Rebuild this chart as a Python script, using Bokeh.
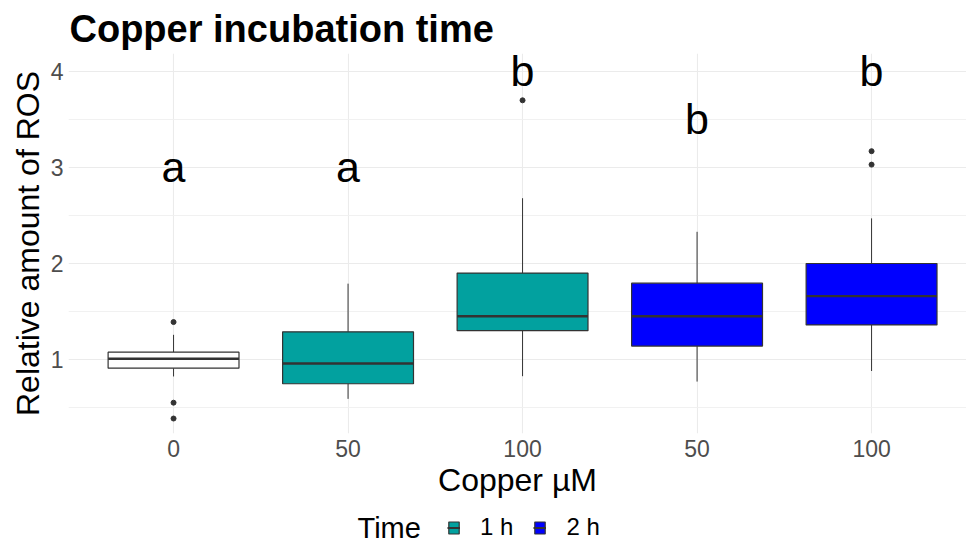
from bokeh.plotting import figure
from bokeh.layouts import column
from bokeh.models import (Range1d, FixedTicker, Legend, LegendItem, Label,
                          ColumnDataSource)
from bokeh.core.properties import value
from bokeh.embed import file_html
from bokeh.resources import INLINE

# ---------------- data ----------------
cat_labels = ["0", "50", "100", "50", "100"]
time_group = ["none", "1 h", "1 h", "2 h", "2 h"]
q1 = [0.91, 0.747, 1.30, 1.14, 1.36]
med = [1.007, 0.958, 1.45, 1.45, 1.66]
q3 = [1.076, 1.288, 1.90, 1.795, 2.00]
whisk_lo = [0.823, 0.59, 0.826, 0.77, 0.88]
whisk_hi = [1.257, 1.79, 2.68, 2.33, 2.47]
out_group = [0, 0, 0, 2, 4, 4]
out_val = [1.39, 0.55, 0.385, 3.70, 3.17, 3.03]
letters = ["a", "a", "b", "b", "b"]
letter_y = [3.0, 3.0, 4.0, 3.5, 4.0]
legend_title = "Time"
legend_labels = ["1 h", "2 h"]

colors = {"none": "#FFFFFF", "1 h": "#02A19F", "2 h": "#0000FF"}
FONT = "Liberation Sans"
EDGE = "#333333"

pos = list(range(1, len(cat_labels) + 1))

# ---------------- main plot ----------------
p = figure(width=966, height=505, output_backend="svg", toolbar_location=None,
           x_range=Range1d(0.398, 5.544), y_range=Range1d(0.229, 4.1875),
           min_border_left=68, min_border_right=0, min_border_top=53,
           min_border_bottom=72)
p.outline_line_color = None

p.title.text = "Copper incubation time"
p.title.text_font = FONT
p.title.text_font_size = "38px"
p.title.text_font_style = "bold"
p.title.text_color = "black"
p.title.offset = 1
p.title.standoff = 8

for ax in (p.xaxis[0], p.yaxis[0]):
    ax.axis_line_color = None
    ax.major_tick_line_color = None
    ax.minor_tick_line_color = None
    ax.major_tick_out = 0
    ax.major_tick_in = 0
    ax.minor_tick_out = 0
    ax.major_label_text_font = FONT
    ax.major_label_text_font_size = "23px"
    ax.major_label_text_color = "#4D4D4D"
    ax.axis_label_text_font = FONT
    ax.axis_label_text_font_style = "normal"
    ax.axis_label_text_color = "black"

p.xaxis.ticker = FixedTicker(ticks=pos)
p.xaxis.major_label_overrides = {i: lab for i, lab in zip(pos, cat_labels)}
p.xaxis.axis_label = "Copper µM"
p.xaxis.axis_label_text_font_size = "32px"
p.xaxis.major_label_standoff = 6
p.xaxis.axis_label_standoff = 2

p.yaxis.ticker = FixedTicker(ticks=[1, 2, 3, 4], minor_ticks=[0.5, 1.5, 2.5, 3.5])
p.yaxis.axis_label = "Relative amount of ROS"
p.yaxis.axis_label_text_font_size = "32px"
p.yaxis.major_label_standoff = 5
p.yaxis.axis_label_standoff = 2

p.xgrid.ticker = FixedTicker(ticks=pos)
p.xgrid.grid_line_color = "#EBEBEB"
p.xgrid.grid_line_width = 1.1
p.ygrid.grid_line_color = "#EBEBEB"
p.ygrid.grid_line_width = 1.1
p.ygrid.minor_grid_line_color = "#EFEFEF"
p.ygrid.minor_grid_line_width = 0.9

# whiskers
p.segment(x0=pos, x1=pos, y0=q3, y1=whisk_hi, line_color=EDGE, line_width=1)
p.segment(x0=pos, x1=pos, y0=whisk_lo, y1=q1, line_color=EDGE, line_width=1)

# boxes by group
for g in ["none", "1 h", "2 h"]:
    idx = [i for i, t in enumerate(time_group) if t == g]
    src = ColumnDataSource(dict(x=[pos[i] for i in idx], top=[q3[i] for i in idx],
                                bottom=[q1[i] for i in idx]))
    p.vbar(x="x", top="top", bottom="bottom", width=0.75, source=src,
           fill_color=colors[g], line_color=EDGE, line_width=1.2)

# medians
p.segment(x0=[x - 0.375 for x in pos], x1=[x + 0.375 for x in pos],
          y0=med, y1=med, line_color=EDGE, line_width=2.4)

# outliers
p.scatter(x=[pos[i] for i in out_group], y=out_val, size=5, color=EDGE)

# significance letters
p.text(x=pos, y=letter_y, text=letters, text_align="center",
       text_baseline="middle", text_font=value(FONT), text_font_size="43px",
       text_color="black")

# ---------------- legend strip (frame aligned with the main plot's frame) ----
lg = figure(width=966, height=38, output_backend="svg", toolbar_location=None,
            x_range=Range1d(68, 966), y_range=Range1d(0, 38),
            min_border=0, min_border_left=0, min_border_right=0,
            min_border_top=0, min_border_bottom=0)
lg.axis.visible = False
lg.grid.visible = False
lg.outline_line_color = None

items = []
for lab in legend_labels:
    # off-frame proxy glyphs: only their legend keys are seen
    box = lg.quad(left=[0], right=[1], top=[-10], bottom=[-11],
                  fill_color=colors[lab], line_color=EDGE, line_width=1.2)
    mid = lg.segment(x0=[0], x1=[1], y0=[-10], y1=[-10], line_color=EDGE,
                     line_width=2)
    items.append(LegendItem(label=lab, renderers=[box, mid], index=0))

legend = Legend(items=items, orientation="horizontal", location=(379, 2),
                glyph_width=13, glyph_height=15, label_standoff=20, spacing=20,
                label_text_font=FONT, label_text_font_size="24px",
                label_text_color="black",
                label_height=15, padding=0, margin=0,
                border_line_color=None, background_fill_alpha=0)
lg.add_layout(legend, "center")

lg.add_layout(Label(x=357, y=15.5, text=legend_title, text_font=FONT,
                    text_font_size="29px", text_color="black",
                    text_baseline="middle"))

layout = column(p, lg, spacing=0)
open("out.html", "w").write(file_html(layout, INLINE))
